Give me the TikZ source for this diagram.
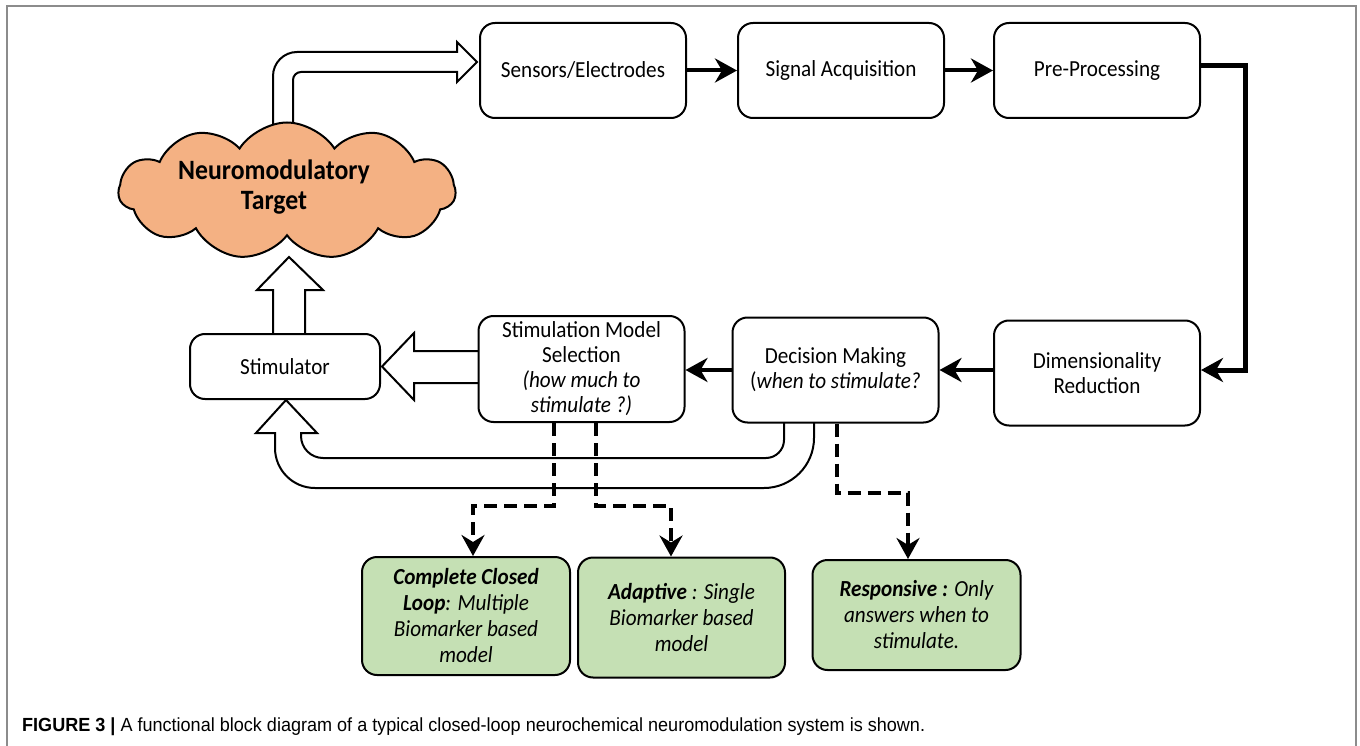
\documentclass[tikz,border=0pt]{standalone}
\usepackage{fontspec}
\setmainfont{Carlito}[FakeStretch=0.92]
\newfontfamily\capfont{Liberation Sans}[FakeStretch=0.95]
\usetikzlibrary{arrows.meta,shapes.symbols}
\definecolor{cloudfill}{HTML}{F4B183}
\definecolor{greenfill}{HTML}{C5E0B4}
\definecolor{framegray}{HTML}{8C8C8C}
\begin{document}
\begin{tikzpicture}[x=1pt,y=-1pt,
  blk/.style={draw,line width=2pt,rounded corners=15pt,fill=white,minimum width=206pt,
    minimum height=105pt,align=center,font=\fontsize{23}{25}\selectfont,inner sep=2pt},
  gbox/.style={blk,fill=greenfill,minimum width=207pt,font=\fontsize{23}{26}\selectfont\itshape},
  flow/.style={line width=4pt,-{Stealth[length=22pt,width=24pt,inset=7pt]}},
  dflow/.style={line width=4pt,dash pattern=on 13pt off 7pt,-{Stealth[length=21pt,width=23pt,inset=7pt]}},
  hollow/.style={draw,line width=2pt,fill=white,line join=miter}
]
\useasboundingbox (0,0) rectangle (1360,746);
% frame
\draw[framegray,line width=1.5pt] (7,746) -- (7,6) -- (1356,6) -- (1356,746);

% bent hollow arrow from target to sensors
\draw[hollow] (273,140) -- (273,76) .. controls (273,62.8) and (283.8,52) .. (297,52)
  -- (457,52) -- (457,42) -- (477,62) -- (457,82) -- (457,72) -- (301,72)
  .. controls (296.6,72) and (293,75.6) .. (293,80) -- (293,140);

% cloud
\node[cloud,draw,line width=2pt,fill=cloudfill,cloud puffs=11,cloud puff arc=115,aspect=2.5,
  minimum width=337pt,minimum height=137pt,inner sep=0pt] (cloud) at (287,191) {};
\node[font=\bfseries\fontsize{28}{30}\selectfont,align=center] (ctext) at (274,187) {Neuromodulatory\\Target};

% hollow arrow stimulator -> target
\draw[hollow] (273,340) -- (273,290) -- (257,290) -- (289,257) -- (323,290) -- (305,290) -- (305,340);

% hollow arrow SMS -> stimulator
\draw[hollow] (486,351) -- (414,351) -- (414,333) -- (382,366.5) -- (414,400) -- (414,383) -- (486,383);

% hollow band decision -> stimulator
\draw[hollow] (784,415) -- (784,440) .. controls (784,449.9) and (775.9,458) .. (766,458)
  -- (323,458) .. controls (310.9,458) and (301,448.1) .. (301,436) -- (301,433)
  -- (317,433) -- (286,400) -- (256,433) -- (275,433) -- (275,448)
  .. controls (275,470.1) and (292.9,488) .. (315,488) -- (764,488)
  .. controls (791.6,488) and (814,465.6) .. (814,438) -- (814,415);

% boxes
\node[blk,minimum height=95pt] (sens) at (583,70.5) {Sensors/Electrodes};
\node[blk,minimum height=95pt] (sig) at (841,70.5) {Signal Acquisition};
\node[blk,minimum height=95pt] (pre) at (1097,70.5) {Pre-Processing};
\node[blk] (dim) at (1097,373) {Dimensionality\\Reduction};
\node[blk] (dec) at (835.5,370) {Decision Making\\(\textit{when to stimulate?}};
\node[blk,minimum height=106pt] (sms) at (581.5,369) {Stimulation Model\\Selection\\\textit{(how much to}\\\textit{stimulate ?)}};
\node[blk,minimum width=190pt,minimum height=65pt] (stim) at (285,366.5) {Stimulator};

% black arrows
\draw[flow] (sens) -- (sig);
\draw[flow] (sig) -- (pre);
\coordinate (rc) at (1245,370);
\draw[flow,line width=5pt,line join=miter] ([yshift=4.5pt]pre.east) -| (rc) -- (rc -| dim.east);
\draw[flow] (dim.west |- rc) -- (dec.east |- rc);
\draw[flow] (dec.west |- rc) -- (sms.east |- rc);

% green boxes
\node[gbox,minimum width=208pt,minimum height=118pt] (gcl) at (466,616) {\textbf{Complete Closed}\\\textbf{Loop}: Multiple\\Biomarker based\\model};
\node[gbox,minimum height=120pt] (gad) at (681.5,617.5) {\textbf{Adaptive} : Single\\Biomarker based\\model};
\node[gbox,minimum width=208pt,minimum height=110pt] (gres) at (916.5,615) {\textbf{Responsive :} Only\\answers when to\\stimulate.};

% dashed arrows
\coordinate (b1) at (473,506);
\coordinate (b2) at (671,506);
\coordinate (b3) at (908,493);
\draw[dflow] ([xshift=-27.5pt]sms.south) |- (b1) -- (b1 |- gcl.north);
\draw[dflow] ([xshift=14.5pt]sms.south) |- (b2) -- (b2 |- gad.north);
\draw[dflow] ([xshift=1.5pt]dec.south) |- (b3) -- (b3 |- gres.north);

% caption
\node[anchor=west,inner sep=0pt,font=\capfont\fontsize{19}{22}\selectfont] (cap) at (22,727)
  {\textbf{FIGURE 3 |} A functional block diagram of a typical closed-loop neurochemical neuromodulation system is shown.};
\end{tikzpicture}
\end{document}
